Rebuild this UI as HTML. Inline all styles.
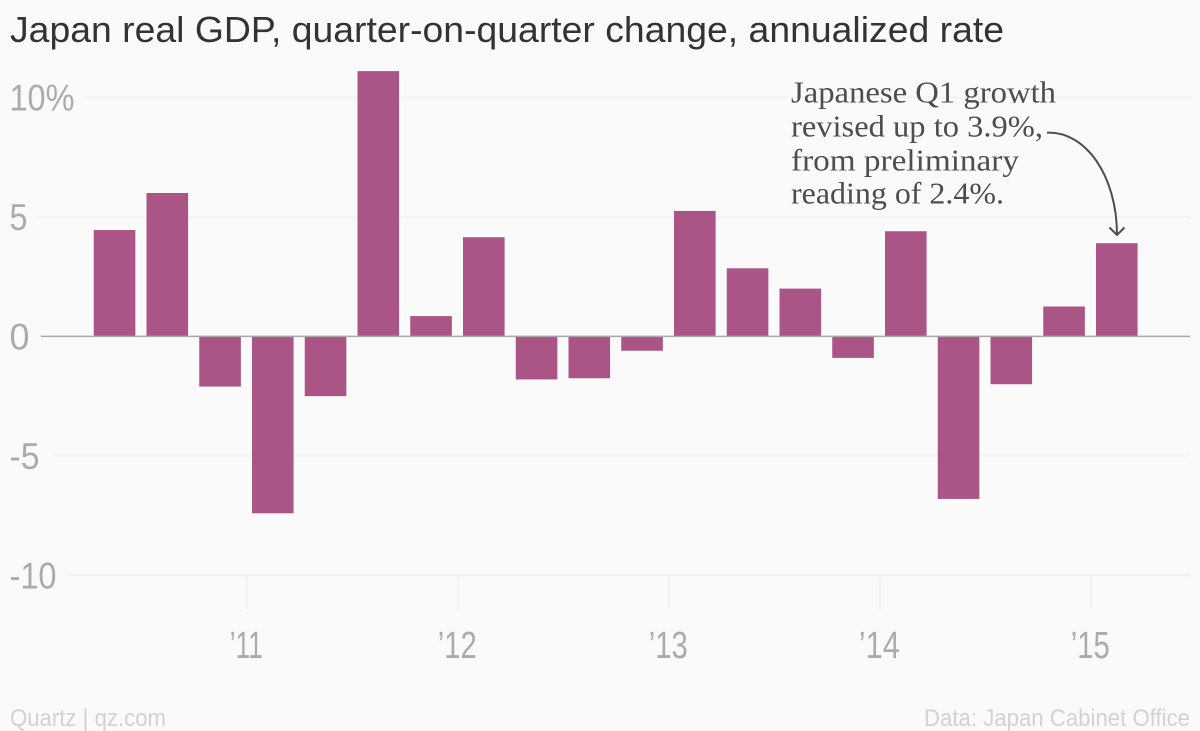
<!DOCTYPE html>
<html>
<head>
<meta charset="utf-8">
<style>
html,body{margin:0;padding:0;background:#fafafa;}
svg{display:block;}
text{font-family:"Liberation Sans",sans-serif;}
</style>
</head>
<body>
<svg id="chart" width="1200" height="731" viewBox="0 0 1200 731" xmlns="http://www.w3.org/2000/svg">
<rect x="0" y="0" width="1200" height="731" fill="#fafafa"/>
<text x="10" y="42" font-size="36" fill="#333" textLength="994" lengthAdjust="spacingAndGlyphs">Japan real GDP, quarter-on-quarter change, annualized rate</text>
<g id="grid"></g>
<g id="xticks"></g>
<g id="bars"></g>
<g id="yticks"></g>
<g font-size="31" fill="#4d4d4d">
<text x="791" y="102.500" style="font-family:'Liberation Serif',serif" textLength="265" lengthAdjust="spacingAndGlyphs">Japanese Q1 growth</text>
<text x="791" y="136.500" style="font-family:'Liberation Serif',serif" textLength="252" lengthAdjust="spacingAndGlyphs">revised up to 3.9%,</text>
<text x="791" y="170.500" style="font-family:'Liberation Serif',serif" textLength="228" lengthAdjust="spacingAndGlyphs">from preliminary</text>
<text x="791" y="203.500" style="font-family:'Liberation Serif',serif" textLength="213" lengthAdjust="spacingAndGlyphs">reading of 2.4%.</text>
</g>
<path d="M1047 132.700C1085 131 1117 175 1117 235M1109.500 227.500L1117 235L1124.500 227.500" fill="none" stroke="#4d4d4d" stroke-width="2"/>
<text x="10" y="726" font-size="24" fill="#d2d2d2" textLength="156" lengthAdjust="spacingAndGlyphs">Quartz | qz.com</text>
<text x="1190" y="726" font-size="24" fill="#d2d2d2" text-anchor="end" textLength="266" lengthAdjust="spacingAndGlyphs">Data: Japan Cabinet Office</text>
</svg>
<script>
var quarters = ["2010Q2","2010Q3","2010Q4","2011Q1","2011Q2","2011Q3","2011Q4","2012Q1","2012Q2","2012Q3","2012Q4","2013Q1","2013Q2","2013Q3","2013Q4","2014Q1","2014Q2","2014Q3","2014Q4","2015Q1"];
var growth = [4.45,6.0,-2.1,-7.4,-2.5,11.1,0.85,4.15,-1.8,-1.75,-0.6,5.25,2.85,2.0,-0.9,4.4,-6.8,-2.0,1.25,3.9];
var yTickValues = [10,5,0,-5,-10];
var yTickLabels = ["10%","5","0","-5","-10"];
var xTickYears = [2011,2012,2013,2014,2015];
var xTickLabels = ["\u201911","\u201912","\u201913","\u201914","\u201915"];

var NS = "http://www.w3.org/2000/svg";
function y(v){ return 336.4 - v * 23.9; }
function x(t){ return 247 + (t - 2011) * 211; }
function quarterTime(q){ return parseInt(q.slice(0,4),10) + (parseInt(q.slice(5),10) - 1) / 4; }
function make(tag, attrs, parent){
  var el = document.createElementNS(NS, tag);
  for (var k in attrs) el.setAttribute(k, attrs[k]);
  parent.appendChild(el);
  return el;
}
function measure(label, widths){
  var total = 0;
  for (var i = 0; i < label.length; i++) total += widths[label.charAt(i)] || 17;
  return total;
}
var yCharWidths = {"-":12,"1":15,"0":19,"5":17,"%":30};
var xCharWidths = {"\u2019":11,"1":11,"2":17,"3":17,"4":19,"5":17};
var grid = document.getElementById("grid");
var xt = document.getElementById("xticks");
var barsG = document.getElementById("bars");
var yt = document.getElementById("yticks");

yTickValues.forEach(function(v, i){
  var w = measure(yTickLabels[i], yCharWidths);
  var labelEnd = 10 + w;
  var startX = labelEnd + 12;
  if (v !== 0) {
    var line = make("line", {x1:startX, x2:1190, y1:y(v), y2:y(v), stroke:"#f0f0f0", "stroke-width":1.5}, grid);
    
    
  }
  var t = make("text", {x:9.5, y:y(v)+13, "font-size":37, fill:"#ababab", textLength:w+1, lengthAdjust:"spacingAndGlyphs"}, yt);
  
  
  t.textContent = yTickLabels[i];
});

xTickYears.forEach(function(yr, i){
  var tick = make("line", {x1:x(yr), x2:x(yr), y1:y(-10), y2:609, stroke:"#ececec", "stroke-width":1.2}, xt);
  
  
  var w = measure(xTickLabels[i], xCharWidths);
  var t = make("text", {x:x(yr)-w/2-0.7, y:658, "font-size":38, fill:"#ababab", textLength:w, lengthAdjust:"spacingAndGlyphs"}, xt);
  
  
  t.textContent = xTickLabels[i];
});

quarters.forEach(function(q, i){
  var v = growth[i];
  var center = x(quarterTime(q)) + 25.8;
  var top = Math.min(y(v), y(0));
  var r = make("rect", {x:center-20.8, y:top, width:41.6, height:Math.abs(y(v)-y(0)), fill:"#aa5586"}, barsG);
  
  
});

var zero = make("line", {x1:41, x2:1190, y1:y(0), y2:y(0), stroke:"#a8a8a8", "stroke-width":1.5}, barsG);


</script>
</body>
</html>
